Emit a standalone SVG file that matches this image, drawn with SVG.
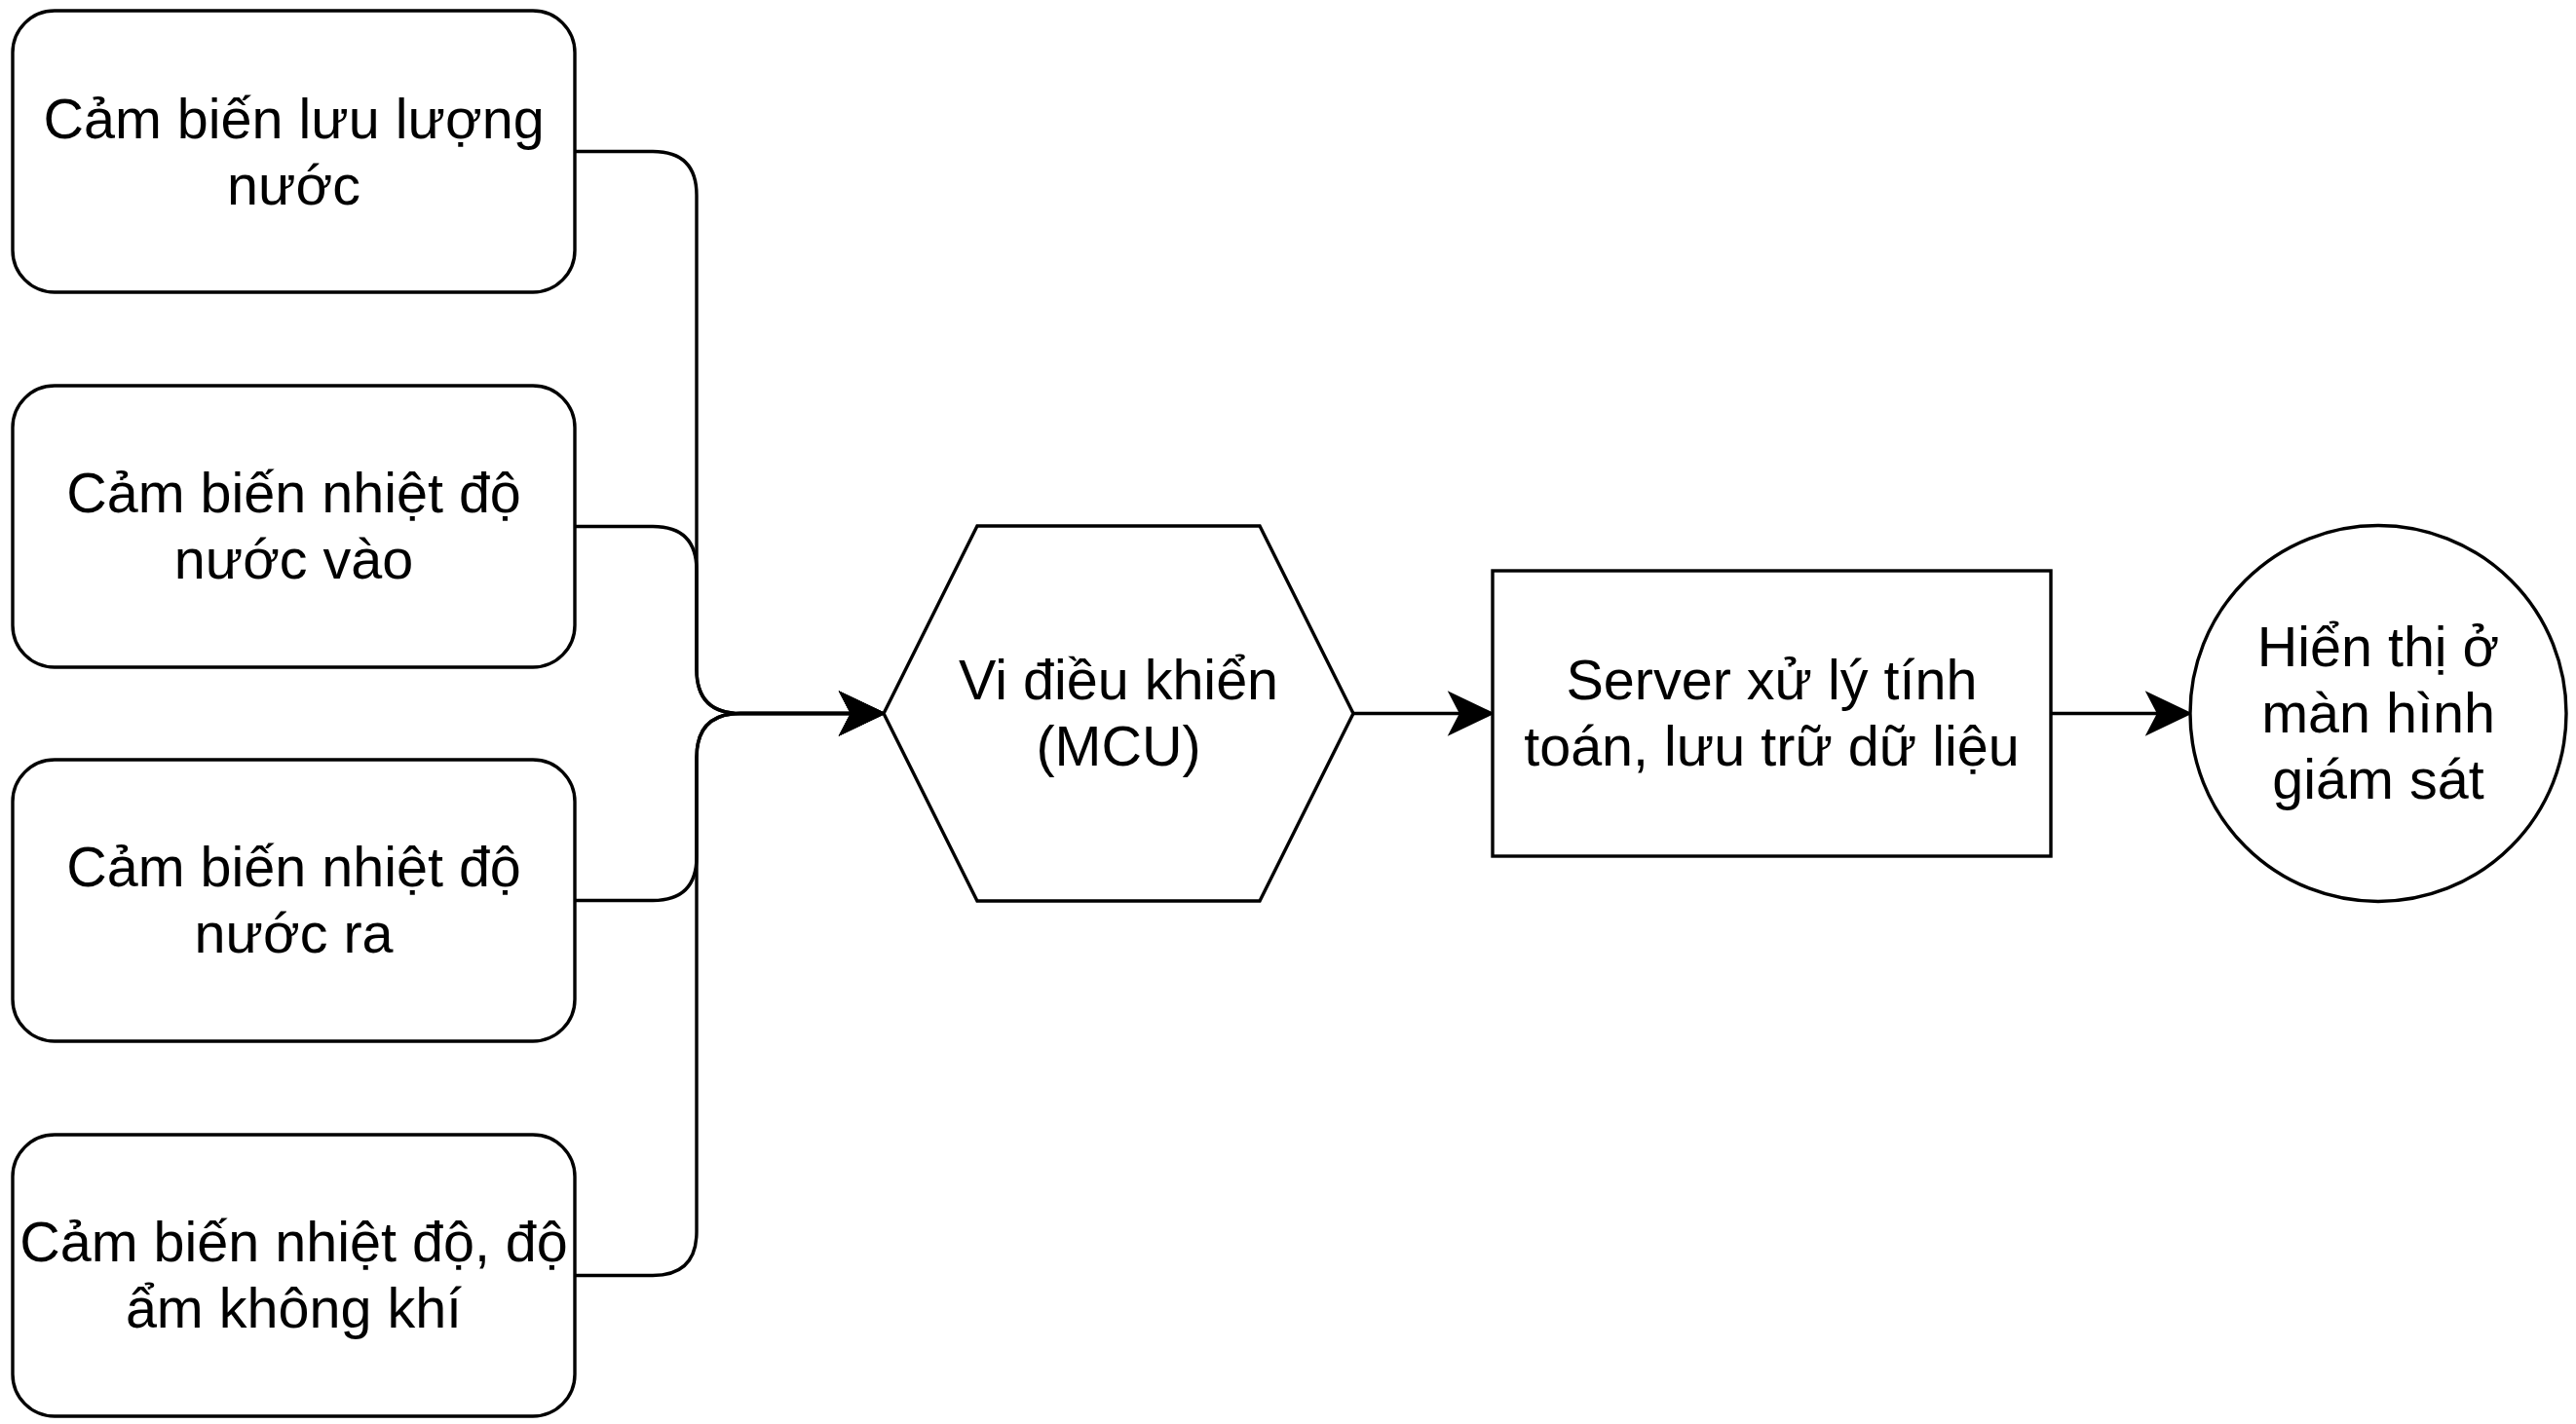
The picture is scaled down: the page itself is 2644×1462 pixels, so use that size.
<svg xmlns="http://www.w3.org/2000/svg" width="2644" height="1462" viewBox="0 0 2644 1462">
<style>
.shape{fill:#ffffff;stroke:#000000;stroke-width:3.4}
.edge{fill:none;stroke:#000000;stroke-width:3.4}
text{font-family:"Liberation Sans",Arial,Helvetica,sans-serif;font-size:57.5px;fill:#000000;text-anchor:middle}
</style>
<defs>
<marker id="arrow" markerUnits="userSpaceOnUse" viewBox="-48 -26 52 52" markerWidth="52" markerHeight="52" refX="-33" refY="0" orient="auto">
<path d="M0,0 L-44,-21 L-33,0 L-44,21 Z" fill="#000000" stroke="#000000" stroke-width="2"/>
</marker>
</defs>
<rect width="2644" height="1462" fill="#ffffff"/>
<g id="connectors">
<path class="edge" d="M590,155.5 H670 Q715,155.5 715,200.5 V687.5 Q715,732.5 760,732.5 H874" marker-end="url(#arrow)"/>
<path class="edge" d="M590,540.5 H670 Q715,540.5 715,585.5 V687.5 Q715,732.5 760,732.5 H874" marker-end="url(#arrow)"/>
<path class="edge" d="M590,924.5 H670 Q715,924.5 715,879.5 V777.5 Q715,732.5 760,732.5 H874" marker-end="url(#arrow)"/>
<path class="edge" d="M590,1309.5 H670 Q715,1309.5 715,1264.5 V777.5 Q715,732.5 760,732.5 H874" marker-end="url(#arrow)"/>
<path class="edge" d="M1389,732.5 H1499" marker-end="url(#arrow)"/>
<path class="edge" d="M2105,732.5 H2215" marker-end="url(#arrow)"/>
</g>
<g id="sensor-flow">
<rect class="shape" x="13" y="11" width="577" height="289" rx="43" ry="43"/>
<text x="301.5" y="141.5">Cảm biến lưu lượng</text>
<text x="301.5" y="209.5">nước</text>
</g>
<g id="sensor-temp-in">
<rect class="shape" x="13" y="396" width="577" height="289" rx="43" ry="43"/>
<text x="301.5" y="525.5">Cảm biến nhiệt độ</text>
<text x="301.5" y="593.5">nước vào</text>
</g>
<g id="sensor-temp-out">
<rect class="shape" x="13" y="780" width="577" height="289" rx="43" ry="43"/>
<text x="301.5" y="909.5">Cảm biến nhiệt độ</text>
<text x="301.5" y="977.5">nước ra</text>
</g>
<g id="sensor-air">
<rect class="shape" x="13" y="1165" width="577" height="289" rx="43" ry="43"/>
<text x="301.5" y="1294.5">Cảm biến nhiệt độ, độ</text>
<text x="301.5" y="1362.5">ẩm không khí</text>
</g>
<g id="mcu">
<polygon class="shape" points="907,732.5 1003,540 1293,540 1389,732.5 1293,925 1003,925"/>
<text x="1148" y="717.5">Vi điều khiển</text>
<text x="1148" y="785.5">(MCU)</text>
</g>
<g id="server">
<rect class="shape" x="1532" y="586" width="573" height="293"/>
<text x="1818.5" y="717.5">Server xử lý tính</text>
<text x="1818.5" y="785.5">toán, lưu trữ dữ liệu</text>
</g>
<g id="display">
<circle class="shape" cx="2441" cy="732.5" r="193"/>
<text x="2441" y="683.5">Hiển thị ở</text>
<text x="2441" y="751.5">màn hình</text>
<text x="2441" y="819.5">giám sát</text>
</g>
</svg>
